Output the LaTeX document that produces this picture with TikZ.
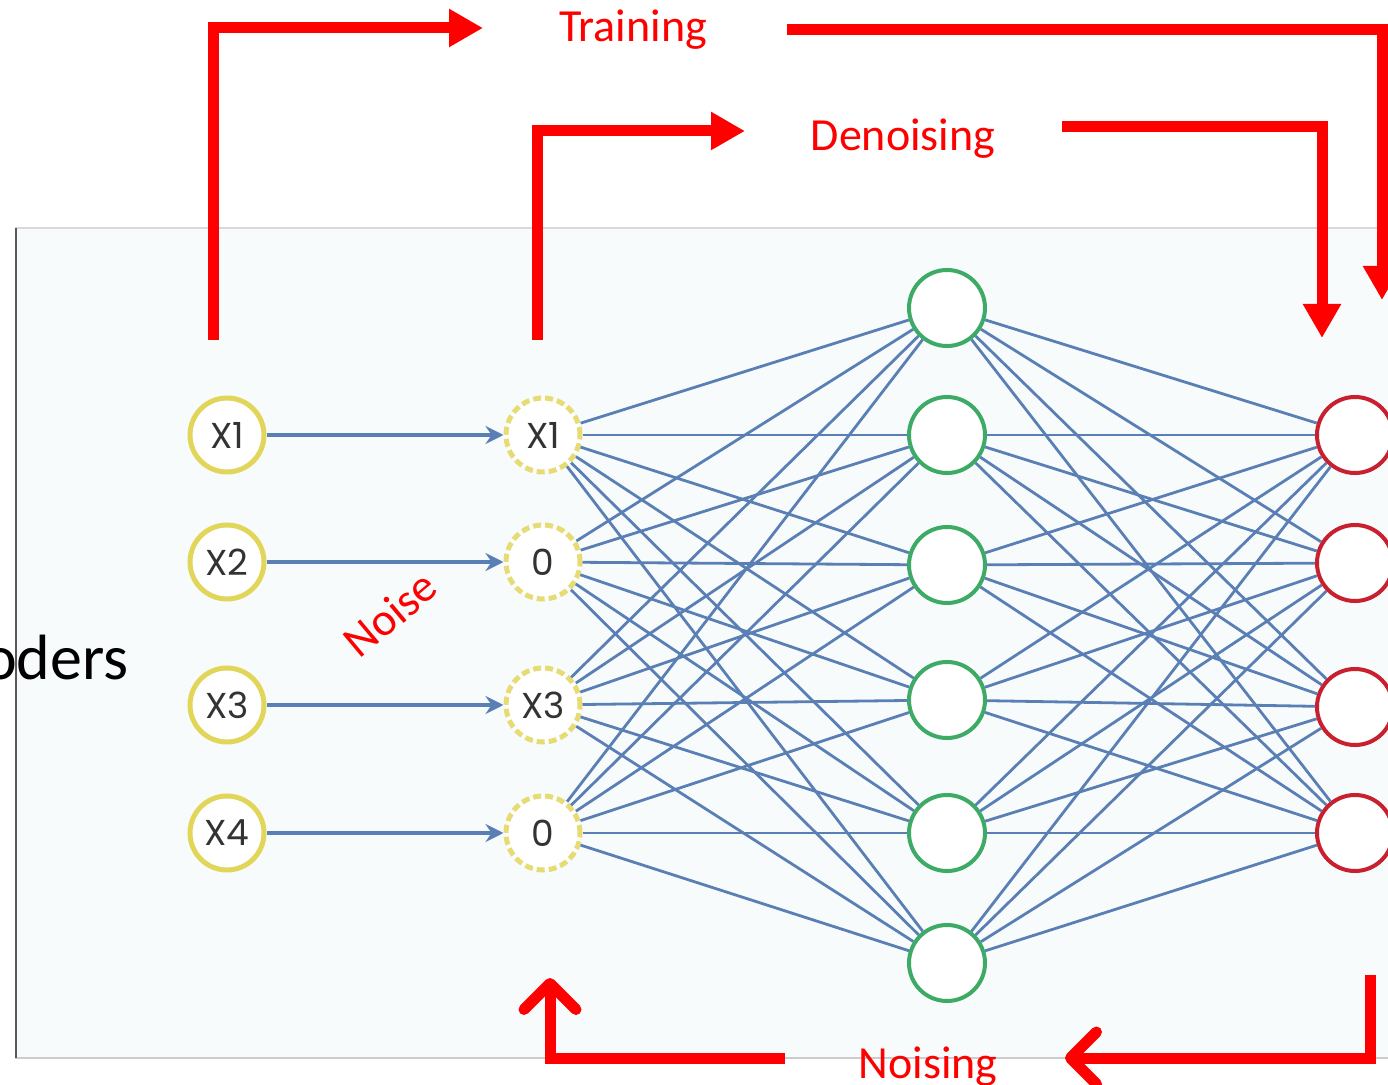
\documentclass[tikz,border=0pt]{standalone}
\usepackage{fontspec}
\setmainfont{Carlito}
\newfontfamily\nodefont{Poppins}
\usetikzlibrary{arrows.meta}
\definecolor{inyellow}{HTML}{E2D65A}
\definecolor{hidgreen}{HTML}{3DAA66}
\definecolor{outred}{HTML}{C8202F}
\definecolor{linkblue}{HTML}{5A7FB5}
\definecolor{nodegray}{HTML}{333333}
\definecolor{panelbg}{HTML}{F8FBFC}
\tikzstyle{inp} = [circle, minimum size=37pt, inner sep=0pt, draw=inyellow, line width=2.5pt, fill=white, text=nodegray, font=\nodefont\fontsize{18}{18}\selectfont]
\tikzstyle{noisy} = [inp, dash pattern=on 4pt off 2pt, draw=inyellow!85]
\tikzstyle{hid} = [circle, minimum size=38pt, inner sep=0pt, draw=hidgreen, line width=2pt, fill=white]
\tikzstyle{outp} = [hid, draw=outred]
\tikzstyle{link} = [draw=linkblue, line width=1.4pt]
\tikzstyle{feed} = [link, line width=1.6pt, -{Stealth[length=9pt,width=9pt,inset=3pt]}]
\tikzstyle{redarrow} = [draw=red, line width=5.5pt, -{Triangle[length=17pt,width=18pt]}]
\tikzstyle{redback} = [draw=red, line width=5.5pt, -{Straight Barb[length=13pt,width=26pt,round]}]
\tikzstyle{redlabel} = [text=red, font=\fontsize{23}{23}\selectfont, anchor=base]

\begin{document}
\begin{tikzpicture}[x=0.5pt, y=-0.5pt]
\useasboundingbox (0,0) rectangle (1388,1085);
% panel
\fill[panelbg] (15,228) rectangle (1388,1058);
\draw[line width=0.8pt, draw=black!15] (15,228) -- (1388,228);
\draw[line width=0.8pt, draw=black!20] (15,1058) -- (1388,1058);
\draw[line width=1pt, draw=black!65] (16,228) -- (16,1058);
\node[anchor=base east, inner sep=0pt, font=\fontsize{32}{32}\selectfont] (title) at (129,680) {oders};

% layers
\foreach \k/\y/\lab in {1/435/X1, 2/562/X2, 3/705/X3, 4/833/X4}
  \node[inp] (in\k) at (227,\y) {\lab};
\foreach \k/\y/\lab in {1/435/X1, 2/562/0, 3/705/X3, 4/833/0}
  \node[noisy] (nz\k) at (543,\y) {\lab};
\foreach \k/\y in {1/308, 2/435, 3/565, 4/700, 5/833, 6/963}
  \node[hid] (hd\k) at (947,\y) {};
\foreach \k/\y in {1/435, 2/563, 3/707, 4/833}
  \node[outp] (ot\k) at (1355,\y) {};

% connections
\foreach \i in {1,...,4} {
  \draw[feed] (in\i) -- (nz\i);
  \foreach \j in {1,...,6} {
    \draw[link] (nz\i) -- (hd\j);
    \draw[link] (hd\j) -- (ot\i);
  }
}

% labels
\node[redlabel] (training) at (633,42) {Training};
\node[redlabel] (denoising) at (903,151) {Denoising};
\node[redlabel] (noising) at (928,1078) {Noising};
\node[text=red, rotate=40, inner sep=0pt, font=\fontsize{23}{23}\selectfont] (noise) at (390,614) {Noise};

% red flow arrows
\coordinate (tra) at (213,340);
\coordinate (trb) at (483,28);
\coordinate (trc) at (787,30);
\coordinate (trd) at (1382,300);
\coordinate (dna) at (537,340);
\coordinate (dnb) at (745,131);
\coordinate (dnc) at (1062,127);
\coordinate (dnd) at (1322,338);
\coordinate (nsa) at (1370,975);
\coordinate (nsb) at (1065,1058);
\coordinate (nsc) at (785,1058);
\coordinate (nsd) at (550,978);
\draw[redarrow] (tra) |- (trb);
\draw[redarrow] (trc) -| (trd);
\draw[redarrow] (dna) |- (dnb);
\draw[redarrow] (dnc) -| (dnd);
\draw[redback] (nsa) |- (nsb);
\draw[redback] (nsc) -| (nsd);
\end{tikzpicture}
\end{document}
